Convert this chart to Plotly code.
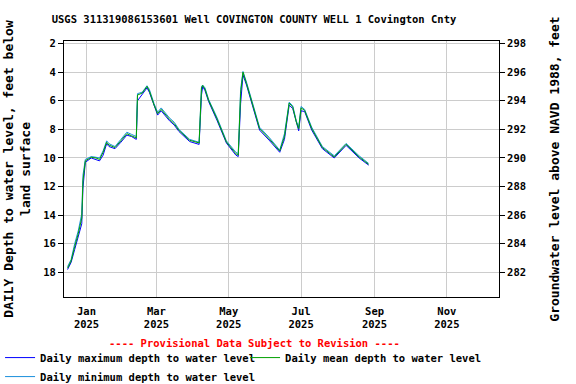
import plotly.graph_objects as go

# Daily depth to water level, feet below land surface
dates = ["2024-12-16", "2024-12-19", "2024-12-22", "2024-12-25", "2024-12-28",
         "2024-12-29", "2024-12-31", "2025-01-05", "2025-01-09", "2025-01-12",
         "2025-01-15", "2025-01-18", "2025-01-20", "2025-01-25", "2025-01-30",
         "2025-02-04", "2025-02-08", "2025-02-12", "2025-02-13", "2025-02-17",
         "2025-02-21", "2025-02-23", "2025-02-27", "2025-03-02", "2025-03-05",
         "2025-03-12", "2025-03-16", "2025-03-20", "2025-03-29", "2025-04-06",
         "2025-04-08", "2025-04-09", "2025-04-11", "2025-04-14", "2025-04-21",
         "2025-04-29", "2025-05-07", "2025-05-09", "2025-05-11", "2025-05-13",
         "2025-05-16", "2025-05-20", "2025-05-27", "2025-06-04", "2025-06-13",
         "2025-06-17", "2025-06-21", "2025-06-24", "2025-06-27", "2025-06-29",
         "2025-07-01", "2025-07-04", "2025-07-10", "2025-07-19", "2025-07-29",
         "2025-08-08", "2025-08-19", "2025-08-27"]

depth_mean = [17.7, 17.2, 16.2, 15.3, 14.2, 11.6, 10.2, 9.95, 10.0, 10.1,
              9.6, 8.9, 9.1, 9.27, 8.8, 8.3, 8.45, 8.6, 5.6, 5.46,
              5.0, 5.3, 6.3, 6.9, 6.6, 7.3, 7.6, 8.07, 8.76, 8.95,
              5.1, 4.93, 5.2, 5.97, 7.25, 8.88, 9.7, 9.8, 5.5, 4.0,
              4.8, 5.97, 7.95, 8.65, 9.51, 8.5, 6.16, 6.44, 7.49, 7.95,
              6.5, 6.67, 7.95, 9.27, 9.93, 9.04, 9.93, 10.44]

depth_max = [17.8, 17.3, 16.4, 15.5, 14.6, 12.1, 10.3, 10.0, 10.1, 10.2,
             9.8, 9.0, 9.2, 9.35, 8.9, 8.4, 8.5, 8.7, 6.0, 5.55,
             5.1, 5.4, 6.4, 7.0, 6.7, 7.4, 7.7, 8.15, 8.85, 9.05,
             5.6, 5.0, 5.3, 6.05, 7.35, 8.95, 9.8, 9.9, 6.2, 4.2,
             4.9, 6.05, 8.05, 8.75, 9.6, 8.7, 6.3, 6.55, 7.6, 8.1,
             6.7, 6.75, 8.05, 9.35, 10.0, 9.12, 10.0, 10.5]

depth_min = [17.6, 17.1, 16.0, 15.1, 13.9, 11.2, 10.1, 9.9, 9.95, 10.0,
             9.5, 8.8, 9.0, 9.2, 8.7, 8.2, 8.35, 8.5, 5.5, 5.4,
             4.95, 5.2, 6.2, 6.8, 6.5, 7.2, 7.5, 8.0, 8.7, 8.9,
             5.0, 4.9, 5.1, 5.9, 7.15, 8.8, 9.6, 9.7, 5.2, 3.95,
             4.7, 5.9, 7.85, 8.55, 9.45, 8.3, 6.1, 6.35, 7.4, 7.85,
             6.4, 6.6, 7.85, 9.2, 9.85, 8.98, 9.85, 10.38]

tick_dates = ["2025-01-01", "2025-03-01", "2025-05-01", "2025-07-01", "2025-09-01", "2025-11-01"]
tick_text = ["Jan<br>2025", "Mar<br>2025", "May<br>2025", "Jul<br>2025", "Sep<br>2025", "Nov<br>2025"]

depth_range = [19.72, 1.82]
datum = 300.0  # land surface elevation, feet above NAVD 1988

font_name = "DejaVu Sans Mono"

fig = go.Figure()

fig.add_trace(go.Scatter(x=dates, y=depth_max, mode="lines", name="Daily maximum depth to water level",
                         line=dict(color="#0000ff", width=1), legendrank=1))
fig.add_trace(go.Scatter(x=dates, y=depth_min, mode="lines", name="Daily minimum depth to water level",
                         line=dict(color="#1a8fdc", width=1), legendrank=3))
fig.add_trace(go.Scatter(x=dates, y=depth_mean, mode="lines", name="Daily mean depth to water level",
                         line=dict(color="#00a000", width=1), legendrank=2))
# empty trace so the elevation axis is drawn
fig.add_trace(go.Scatter(x=[dates[0]], y=[None], yaxis="y2", showlegend=False, hoverinfo="skip"))

fig.update_layout(
    width=576, height=384,
    margin=dict(l=64, r=77, t=41, b=87, autoexpand=False),
    paper_bgcolor="white", plot_bgcolor="white",
    font=dict(family=font_name, size=10.5, color="black", weight="bold"),
    title=dict(text="USGS 311319086153601 Well COVINGTON COUNTY WELL 1 Covington Cnty",
               x=0.441, xanchor="center", y=0.95, yanchor="middle",
               font=dict(family=font_name, size=10.5, weight="bold")),
    xaxis=dict(range=["2024-12-13", "2025-12-15"], tickvals=tick_dates, ticktext=tick_text,
               showgrid=True, gridcolor="#cccccc", showline=True, linecolor="black",
               mirror=True, ticks="", zeroline=False, automargin=False, ticklabelstandoff=4),
    yaxis=dict(range=depth_range, dtick=2, showgrid=True, gridcolor="#cccccc",
               showline=True, linecolor="black", mirror=True, ticks="outside",
               ticklen=5, tickcolor="black", zeroline=False, automargin=False,
               title=dict(text="DAILY Depth to water level, feet below<br>land surface", standoff=9)),
    yaxis2=dict(range=[datum - depth_range[0], datum - depth_range[1]], dtick=2,
                overlaying="y", side="right", showgrid=False, ticks="outside",
                ticklen=5, tickcolor="black", zeroline=False, automargin=False,
                title=dict(text="Groundwater level above NAVD 1988, feet", standoff=24)),
    legend=dict(orientation="h", x=-0.147, xanchor="left", y=-0.18, yanchor="top",
                entrywidth=200, tracegroupgap=0, itemwidth=30,
                font=dict(family=font_name, size=10.5, weight="bold")),
    annotations=[dict(text="---- Provisional Data Subject to Revision ----",
                      xref="paper", yref="paper", x=0.437, y=-0.18, xanchor="center",
                      yanchor="middle", showarrow=False,
                      font=dict(family=font_name, size=10.5, color="red", weight="bold"))],
)

# drop the page's default body margin so the figure sits at the top-left corner
fig.write_html("out.html", config={"displayModeBar": False},
               post_script="document.body.style.margin = '0';")
